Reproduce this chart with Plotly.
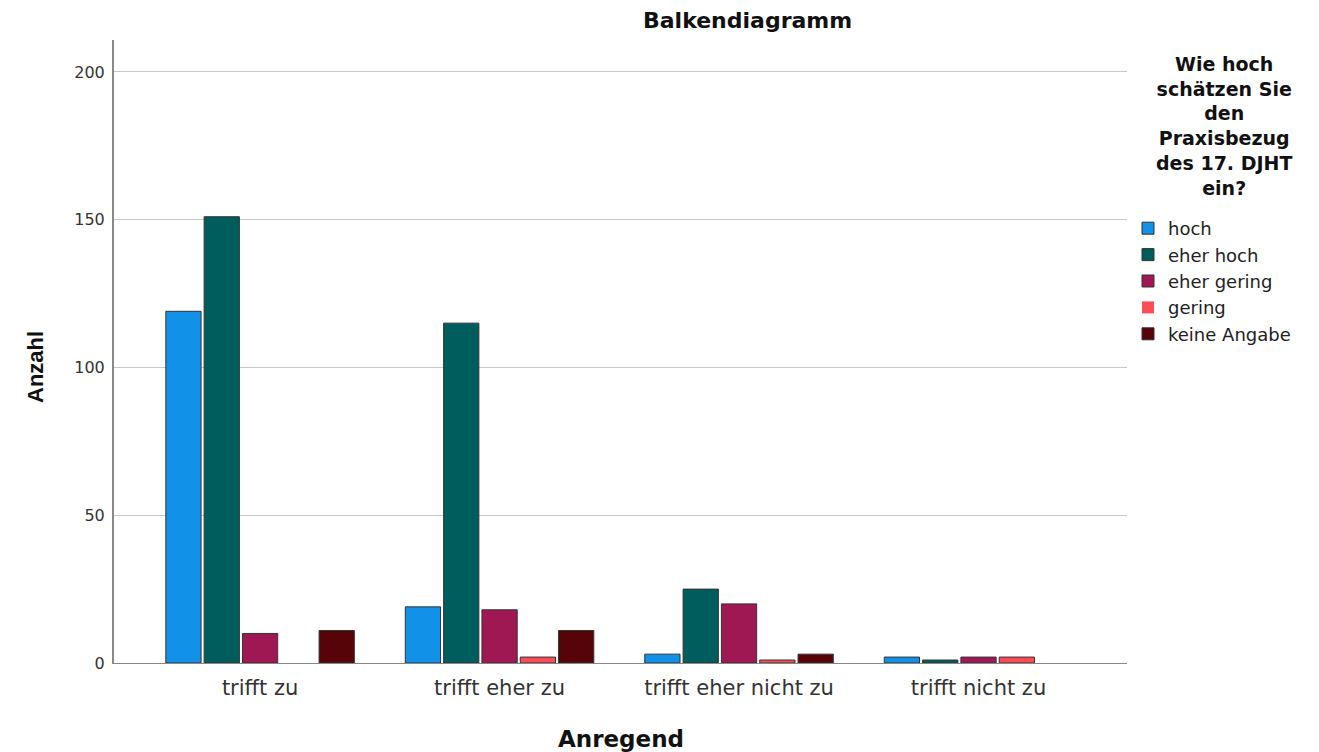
import plotly.graph_objects as go

categories = ["trifft zu", "trifft eher zu", "trifft eher nicht zu", "trifft nicht zu"]
series_names = ["hoch", "eher hoch", "eher gering", "gering", "keine Angabe"]
hoch = [119, 19, 3, 2]
eher_hoch = [151, 115, 25, 1]
eher_gering = [10, 18, 20, 2]
gering = [0, 2, 1, 2]
keine_angabe = [11, 11, 3, 0]
y_ticks = [0, 50, 100, 150, 200]
legend_title_lines = ["Wie hoch", "schätzen Sie", "den", "Praxisbezug", "des 17. DJHT", "ein?"]

values = [hoch, eher_hoch, eher_gering, gering, keine_angabe]
colors = ["#1192e8", "#005d5d", "#9f1853", "#fa4d56", "#570408"]

# page body adds an 8px margin; the figure is sized and laid out to compensate
OFF = 8
W, H = 1319 - OFF, 752 - OFF
L, R, T, B = 114 - OFF, 1127 - OFF, 40 - OFF, 663 - OFF

fig = go.Figure()
for name, vals, col in zip(series_names, values, colors):
    fig.add_trace(go.Bar(
        x=categories, y=vals, name=name,
        marker=dict(color=col,
                    line=dict(color="#333333", width=[1 if v > 0 else 0 for v in vals])),
    ))

FONT = "DejaVu Sans, Verdana, sans-serif"
fig.update_layout(
    width=W, height=H,
    margin=dict(l=L, r=W - R, t=T, b=H - B, autoexpand=False),
    paper_bgcolor="white", plot_bgcolor="white",
    barmode="group", bargap=0.2, bargroupgap=0.08,
    font=dict(family=FONT, color="#222222"),
    xaxis=dict(range=[-0.61, 3.62], showline=True, linecolor="#888888", linewidth=1,
               ticks="", tickfont=dict(size=21, color="#333333", family=FONT),
               ticklabelstandoff=6, automargin=False, showgrid=False),
    yaxis=dict(range=[0, 210.8], tickvals=y_ticks, showline=True, linecolor="#888888", linewidth=2,
               ticks="", tickfont=dict(size=16, color="#333333", family=FONT),
               ticklabelstandoff=4, automargin=False,
               gridcolor="#c8c8c8", gridwidth=1, zeroline=False),
    legend=dict(x=(1128 - OFF - L) / (R - L), xanchor="left", yref="paper",
                y=(B - (210 - OFF)) / (B - T), yanchor="top",
                font=dict(size=18, color="#222222", family=FONT),
                tracegroupgap=0, itemwidth=30, bgcolor="rgba(0,0,0,0)"),
    showlegend=True,
)

def py(ref_y):
    return (B - (ref_y - OFF)) / (B - T)

def px(ref_x):
    return ((ref_x - OFF) - L) / (R - L)

# chart title
fig.add_annotation(text="<b>Balkendiagramm</b>", xref="paper", yref="paper",
                   x=px(747), y=py(20), xanchor="center", yanchor="middle",
                   showarrow=False, font=dict(size=22, color="#111111", family=FONT))
# x axis title
fig.add_annotation(text="<b>Anregend</b>", xref="paper", yref="paper",
                   x=px(621), y=py(739), xanchor="center", yanchor="middle",
                   showarrow=False, font=dict(size=23, color="#111111", family=FONT))
# y axis title
fig.add_annotation(text="<b>Anzahl</b>", xref="paper", yref="paper",
                   x=px(35), y=py(367), xanchor="center", yanchor="middle",
                   textangle=-90, showarrow=False,
                   font=dict(size=22, color="#111111",
                             family="Liberation Sans Narrow, Liberation Sans, Arial, sans-serif"))
# legend title
fig.add_annotation(text="<b>" + "<br>".join(legend_title_lines) + "</b>",
                   xref="paper", yref="paper",
                   x=px(1224), y=py(52), xanchor="center", yanchor="top",
                   align="center", showarrow=False, borderpad=0,
                   font=dict(size=19, color="#111111", family=FONT))

fig.write_html("out.html")
